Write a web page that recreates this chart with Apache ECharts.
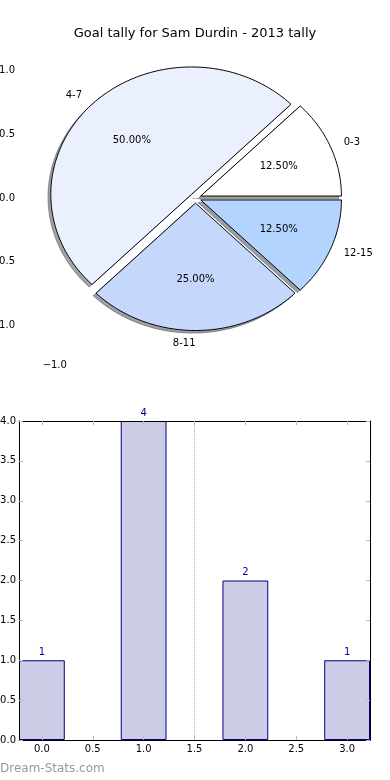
<!DOCTYPE html>
<html>
<head>
<meta charset="utf-8">
<script src="https://cdn.jsdelivr.net/npm/echarts@6/dist/echarts.min.js"></script>
<style>
  html, body { margin: 0; padding: 0; background: #ffffff; }
  #chart { width: 390px; height: 780px; }
</style>
</head>
<body>
<div id="chart"></div>
<script>
// ---- data ----
const chartTitle = 'Goal tally for Sam Durdin - 2013 tally';
const pieCategories = ['0-3', '4-7', '8-11', '12-15'];
const pieValues = [1, 4, 2, 1];
const pieYTicks = [-1.0, -0.5, 0.0, 0.5, 1.0];
const pieXTicks = [-1.0];
const barX = [0, 1, 2, 3];
const barValues = [1, 4, 2, 1];
const barXTicks = [0.0, 0.5, 1.0, 1.5, 2.0, 2.5, 3.0];
const barYTicks = [0.0, 0.5, 1.0, 1.5, 2.0, 2.5, 3.0, 3.5, 4.0];
const dividerX = 1.5;
const watermark = 'Dream-Stats.com';

// ---- styles ----
const FONT = 'DejaVu Sans';
const pieColors = ['#FFFFFF', '#EAF0FE', '#C5D8FC', '#B3D4FF'];
const EXPLODE = 0.04;
const SHADOW = 0.02;
const PIE_LIM = 1.24;
const BAR_WIDTH_UNITS = 0.45;
const BAR_XMIN = -0.225, BAR_XMAX = 3.225;
const TICK_COLOR = '#b8b8b8';

function fmt(v) {
  return (v < 0 ? '\u2212' : '') + Math.abs(v).toFixed(1);
}
function shadowColor(hex) {
  const r = parseInt(hex.slice(1, 3), 16), g = parseInt(hex.slice(3, 5), 16), b = parseInt(hex.slice(5, 7), 16);
  return 'rgba(' + Math.round(0.3 * r) + ',' + Math.round(0.3 * g) + ',' + Math.round(0.3 * b) + ',0.5)';
}
function wedge(idx, api) {
  const total = pieValues.reduce((a, b) => a + b, 0);
  let cum = 0;
  for (let i = 0; i < idx; i++) cum += pieValues[i];
  const v = api.value(0);
  const t1 = 360 * cum / total;
  const t2 = 360 * (cum + v) / total;
  const tm = Math.PI / 180 * (t1 + t2) / 2;
  const cx = EXPLODE * Math.cos(tm), cy = EXPLODE * Math.sin(tm);
  return { t1, t2, tm, cx, cy, frac: v / total };
}
function wedgePoints(g, api, dx, dy) {
  const pts = [api.coord([g.cx + dx, g.cy + dy])];
  const n = Math.max(2, Math.ceil(g.t2 - g.t1));
  for (let k = 0; k <= n; k++) {
    const a = Math.PI / 180 * (g.t1 + (g.t2 - g.t1) * k / n);
    pts.push(api.coord([g.cx + dx + Math.cos(a), g.cy + dy + Math.sin(a)]));
  }
  return pts;
}

const chart = echarts.init(document.getElementById('chart'), null, { renderer: 'canvas' });

const pieAxisCommon = {
  type: 'value', min: -PIE_LIM, max: PIE_LIM,
  axisLine: { show: false },
  splitLine: { show: false },
  axisTick: { show: true, inside: true, length: 3, lineStyle: { color: TICK_COLOR, width: 1 } },
  axisLabel: { show: false }
};

const barWidthPx = BAR_WIDTH_UNITS / (BAR_XMAX - BAR_XMIN) * 351;

const option = {
  animation: false,
  backgroundColor: '#ffffff',
  textStyle: { fontFamily: FONT },
  title: {
    text: chartTitle, left: 'center', top: 22,
    textStyle: { fontFamily: FONT, fontSize: 13, fontWeight: 'normal', color: '#000' }
  },
  grid: [
    { left: 21, width: 349, top: 40, height: 316, containLabel: false, outerBoundsMode: 'none' },
    { left: 19, width: 351, top: 421, height: 319, containLabel: false, outerBoundsMode: 'none' }
  ],
  xAxis: [
    Object.assign({}, pieAxisCommon, {
      gridIndex: 0, position: 'bottom',
      axisTick: Object.assign({}, pieAxisCommon.axisTick, { customValues: pieXTicks }),
      axisLabel: { show: true, customValues: pieXTicks, formatter: fmt, margin: 4, color: '#000', fontSize: 10, fontFamily: FONT }
    }),
    Object.assign({}, pieAxisCommon, {
      gridIndex: 0, position: 'top',
      axisTick: Object.assign({}, pieAxisCommon.axisTick, { customValues: pieXTicks })
    }),
    {
      type: 'value', gridIndex: 1, position: 'bottom', min: BAR_XMIN, max: BAR_XMAX, z: 10,
      axisLine: { show: true, onZero: false, lineStyle: { color: '#000', width: 1 } },
      splitLine: { show: false },
      axisTick: { show: true, inside: true, length: 4, customValues: barXTicks, lineStyle: { color: TICK_COLOR } },
      axisLabel: { show: true, customValues: barXTicks, formatter: fmt, margin: 4, color: '#000', fontSize: 10, fontFamily: FONT }
    },
    {
      type: 'value', gridIndex: 1, position: 'top', min: BAR_XMIN, max: BAR_XMAX, z: 10,
      axisLine: { show: true, onZero: false, lineStyle: { color: '#000', width: 1 } },
      splitLine: { show: false },
      axisTick: { show: true, inside: true, length: 4, customValues: barXTicks, lineStyle: { color: TICK_COLOR } },
      axisLabel: { show: false }
    }
  ],
  yAxis: [
    Object.assign({}, pieAxisCommon, {
      gridIndex: 0, position: 'left',
      axisTick: Object.assign({}, pieAxisCommon.axisTick, { customValues: pieYTicks }),
      axisLabel: { show: true, customValues: pieYTicks, formatter: fmt, margin: 6, color: '#000', fontSize: 10, fontFamily: FONT }
    }),
    Object.assign({}, pieAxisCommon, {
      gridIndex: 0, position: 'right',
      axisTick: Object.assign({}, pieAxisCommon.axisTick, { customValues: pieYTicks })
    }),
    {
      type: 'value', gridIndex: 1, position: 'left', min: 0, max: 4, interval: 0.5, z: 10,
      axisLine: { show: true, onZero: false, lineStyle: { color: '#000', width: 1 } },
      splitLine: { show: false },
      axisTick: { show: true, inside: true, length: 4, customValues: barYTicks, lineStyle: { color: TICK_COLOR } },
      axisLabel: { show: true, customValues: barYTicks, formatter: fmt, margin: 3, color: '#000', fontSize: 10, fontFamily: FONT }
    },
    {
      type: 'value', gridIndex: 1, position: 'right', min: 0, max: 4, interval: 0.5, z: 10,
      axisLine: { show: true, onZero: false, lineStyle: { color: '#000', width: 1 } },
      splitLine: { show: false },
      axisTick: { show: true, inside: true, length: 4, customValues: barYTicks, lineStyle: { color: TICK_COLOR } },
      axisLabel: { show: false }
    }
  ],
  series: [
    {
      name: 'shadow', type: 'custom', xAxisIndex: 0, yAxisIndex: 0, clip: false, silent: true,
      data: pieValues.map((v, i) => ({ name: pieCategories[i], value: [v] })),
      encode: { x: -1, y: -1 },
      renderItem: function (params, api) {
        const g = wedge(params.dataIndex, api);
        const c = shadowColor(pieColors[params.dataIndex]);
        return {
          type: 'polygon',
          shape: { points: wedgePoints(g, api, -SHADOW, -SHADOW) },
          style: { fill: c, stroke: c, lineWidth: 1 }
        };
      }
    },
    {
      name: 'wedges', type: 'custom', xAxisIndex: 0, yAxisIndex: 0, clip: false, silent: true,
      data: pieValues.map((v, i) => ({ name: pieCategories[i], value: [v] })),
      encode: { x: -1, y: -1 },
      renderItem: function (params, api) {
        const idx = params.dataIndex;
        const g = wedge(idx, api);
        const xt = g.cx + 1.1 * Math.cos(g.tm);
        const yt = g.cy + 1.1 * Math.sin(g.tm);
        const lp = api.coord([xt, yt]);
        const pp = api.coord([g.cx + 0.6 * Math.cos(g.tm), g.cy + 0.6 * Math.sin(g.tm)]);
        return {
          type: 'group',
          children: [
            {
              type: 'polygon',
              shape: { points: wedgePoints(g, api, 0, 0) },
              style: { fill: pieColors[idx], stroke: '#000', lineWidth: 1, lineJoin: 'miter' }
            },
            {
              type: 'text', x: lp[0], y: lp[1],
              style: {
                text: pieCategories[idx], fill: '#000', fontSize: 10, fontFamily: FONT,
                align: xt > 0 ? 'left' : 'right', verticalAlign: 'middle'
              }
            },
            {
              type: 'text', x: pp[0], y: pp[1],
              style: {
                text: (g.frac * 100).toFixed(2) + '%', fill: '#000', fontSize: 10, fontFamily: FONT,
                align: 'center', verticalAlign: 'middle'
              }
            }
          ]
        };
      }
    },
    {
      name: 'tally', type: 'bar', xAxisIndex: 2, yAxisIndex: 2,
      data: barX.map((x, i) => [x, barValues[i]]),
      barWidth: barWidthPx,
      itemStyle: { color: '#CCCCE6', borderColor: '#00008B', borderWidth: 1 },
      label: {
        show: true, position: 'top', distance: 3, color: '#00008B', fontSize: 10, fontFamily: FONT,
        formatter: p => String(p.value[1])
      },
      markLine: {
        silent: true, symbol: ['none', 'none'], label: { show: false },
        lineStyle: { type: 'dotted', color: '#b0b0b0', width: 1 },
        data: [{ xAxis: dividerX }]
      }
    }
  ],
  graphic: [
    {
      type: 'text', left: 0, top: 763,
      style: { text: watermark, fill: '#999999', fontSize: 12, fontFamily: FONT }
    }
  ]
};
chart.setOption(option);
</script>
</body>
</html>
